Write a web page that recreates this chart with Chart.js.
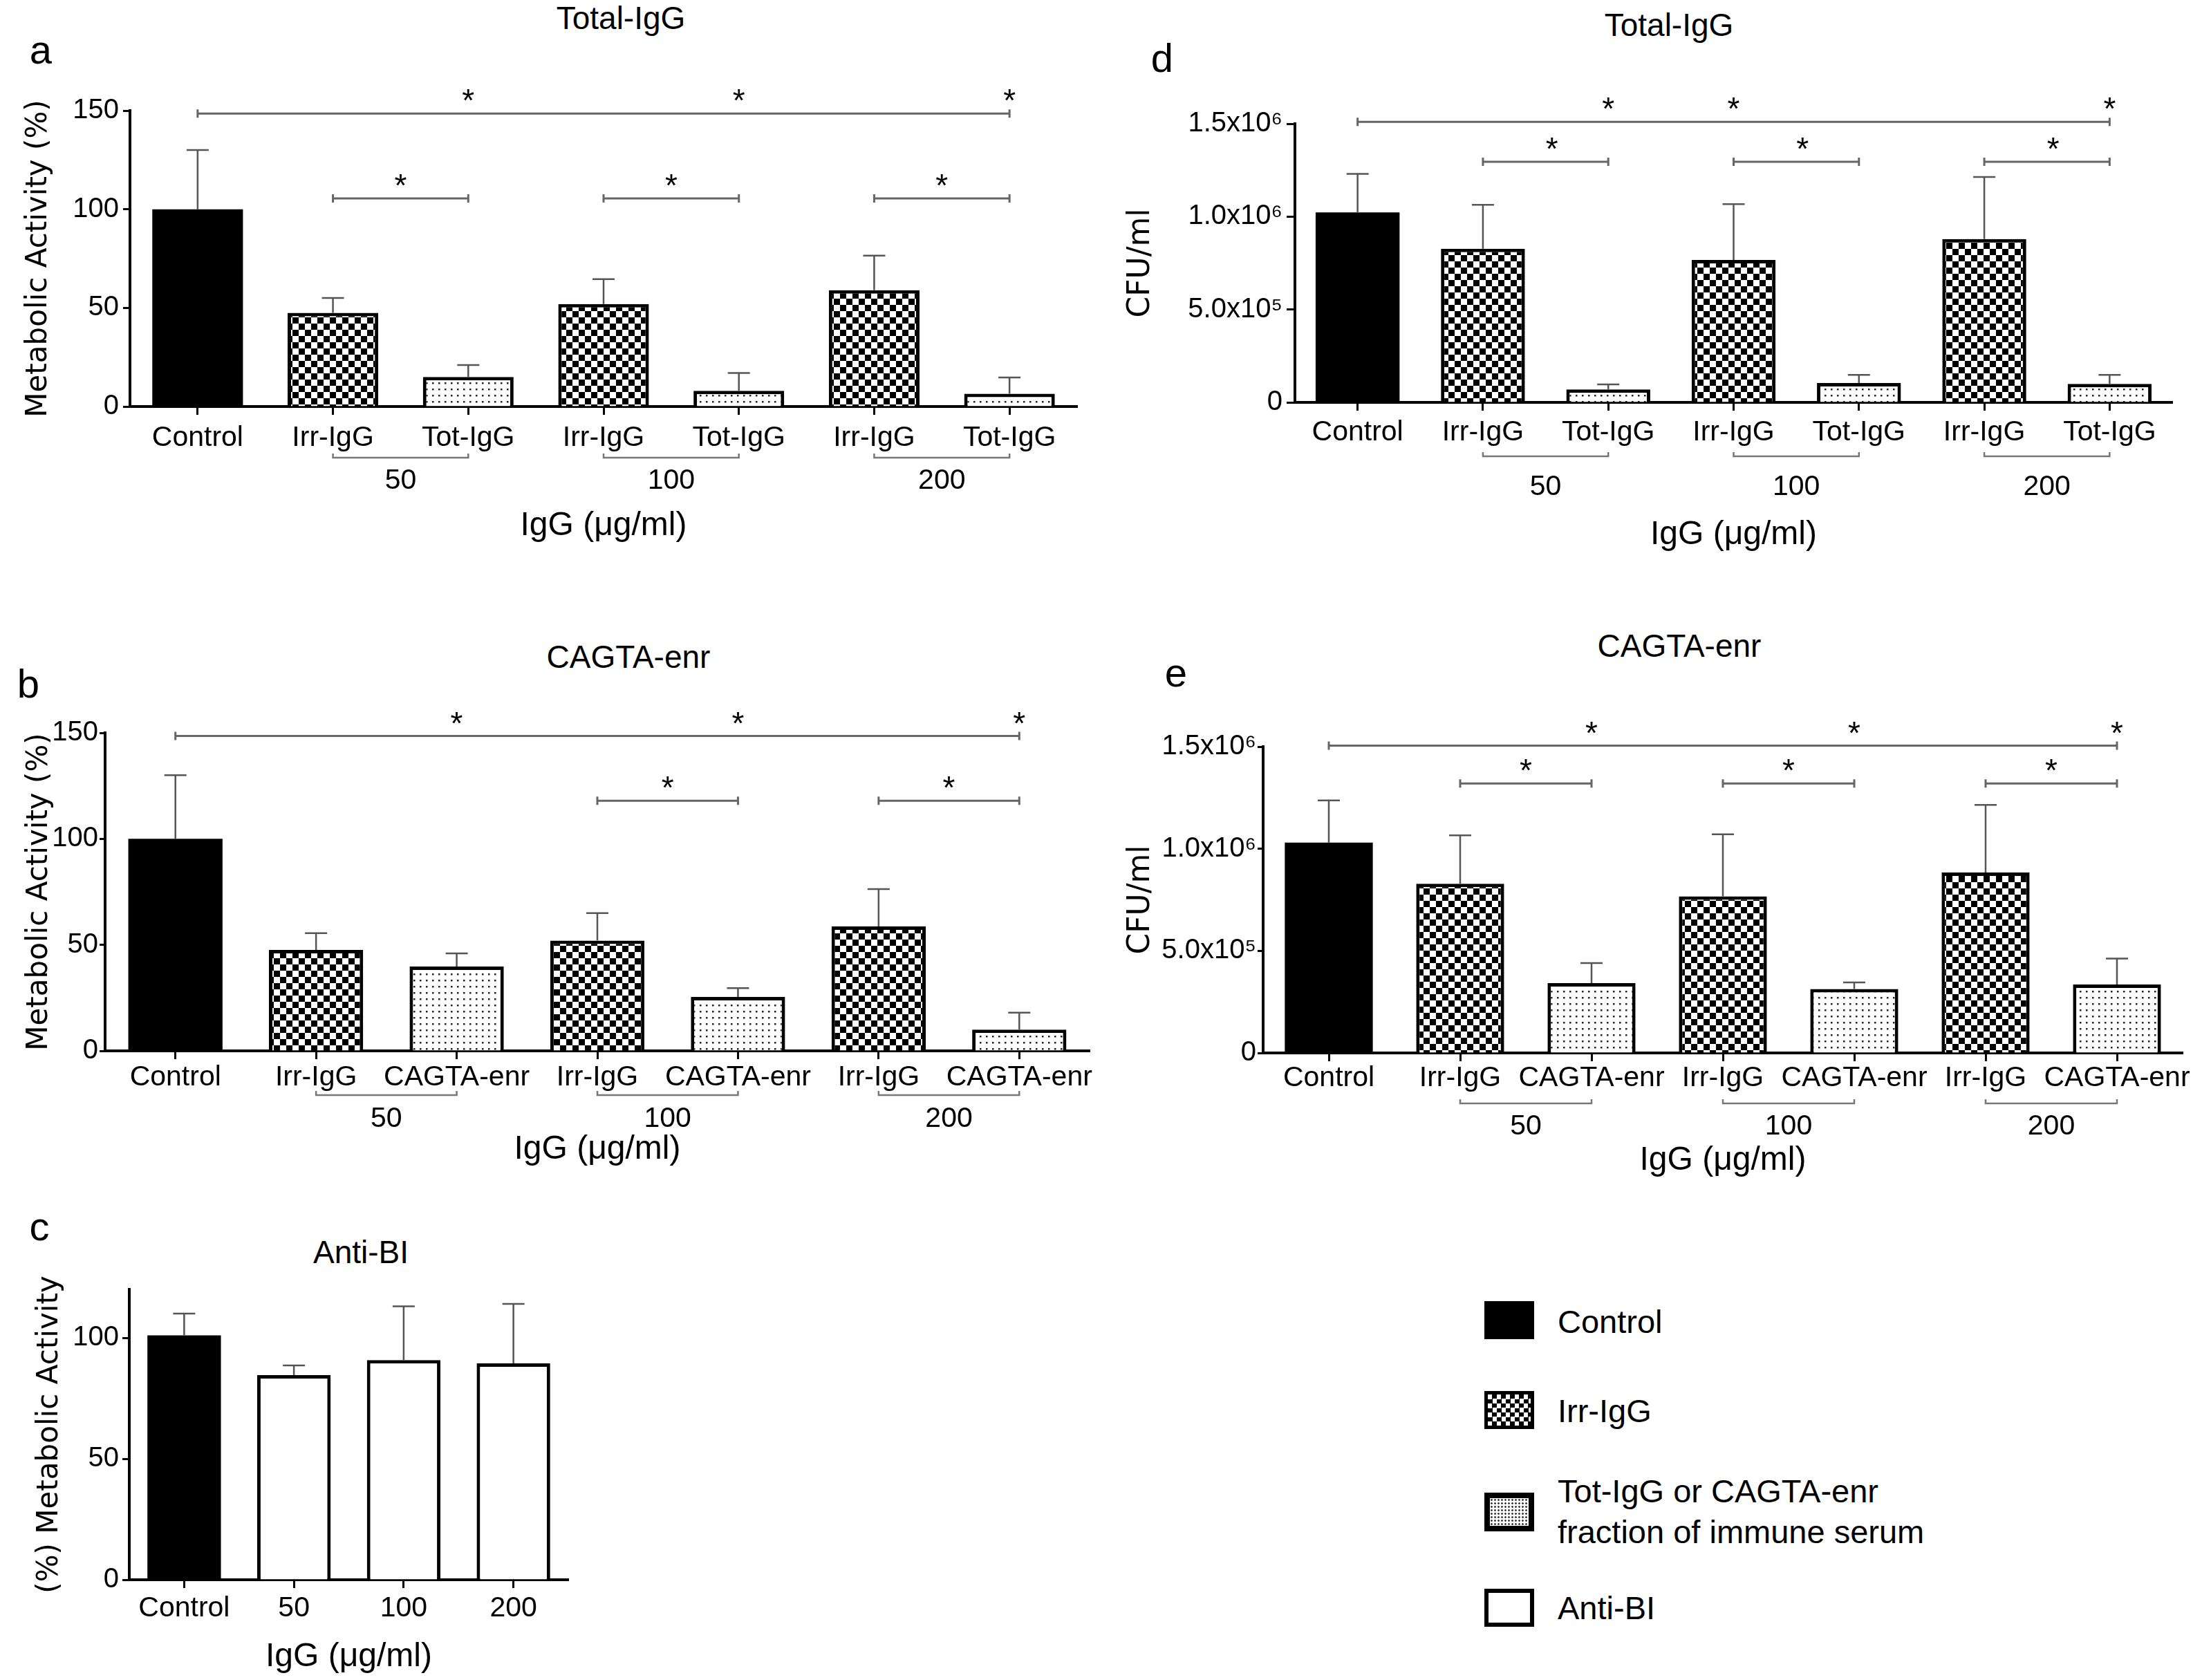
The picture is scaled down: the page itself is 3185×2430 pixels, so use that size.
<!DOCTYPE html>
<html><head><meta charset="utf-8">
<script src="https://cdn.jsdelivr.net/npm/chart.js@4.4.0/dist/chart.umd.min.js"></script>
<style>
html,body{margin:0;padding:0;background:#fff;overflow:hidden;width:3185px;height:2430px;position:relative;font-family:'Liberation Sans',Arial,sans-serif;}
canvas{position:absolute;}
.t{position:absolute;transform:translate(-50%,-50%);line-height:1;white-space:nowrap;color:#000;font-size:46px;}
.lt{position:absolute;transform:translate(-50%,-50%);line-height:1;color:#000;font-size:58px;}
.sw{position:absolute;box-sizing:border-box;}
.lg{position:absolute;transform:translateY(-50%);line-height:1;font-size:47px;white-space:nowrap;color:#000;}
</style></head><body>

<div class="lt" style="left:59px;top:72px">a</div>
<div class="lt" style="left:41px;top:989px">b</div>
<div class="lt" style="left:57px;top:1774px">c</div>
<div class="lt" style="left:1681px;top:84px">d</div>
<div class="lt" style="left:1701px;top:973px">e</div>

<div class="t" style="left:898px;top:26px">Total-IgG</div>
<div class="t" style="left:909px;top:950px">CAGTA-enr</div>
<div class="t" style="left:522px;top:1811px">Anti-BI</div>
<div class="t" style="left:2414px;top:36px">Total-IgG</div>
<div class="t" style="left:2429px;top:934px">CAGTA-enr</div>

<div id="legend"></div>

<script>
// ---------- data ----------
const catsTot   = ['Control','Irr-IgG','Tot-IgG','Irr-IgG','Tot-IgG','Irr-IgG','Tot-IgG'];
const catsCagta = ['Control','Irr-IgG','CAGTA-enr','Irr-IgG','CAGTA-enr','Irr-IgG','CAGTA-enr'];
const catsAnti  = ['Control','50','100','200'];
const doseLabels = ['50','100','200'];
const doseGroups = [[1,2],[3,4],[5,6]];

// panel a: metabolic activity, Total-IgG
const metTotMean = [100, 47.5, 15, 52, 8, 59, 6.5];
const metTotErr  = [30, 7.5, 6, 12.6, 9, 17.5, 8.2];
// panel b: metabolic activity, CAGTA-enr
const metCagtaMean = [100, 47.6, 39.8, 52, 25.4, 58.7, 10];
const metCagtaErr  = [30, 7.9, 6.2, 13, 4.2, 17.6, 8];
// panel c: metabolic activity, Anti-BI
const antiMean = [101, 84.6, 90.8, 89.4];
const antiErr  = [9, 4, 22.2, 24.6];
// panel d: CFU/ml, Total-IgG
const cfuTotMean = [1.023e6, 0.827e6, 0.07e6, 0.767e6, 0.104e6, 0.879e6, 0.10e6];
const cfuTotErr  = [0.207e6, 0.237e6, 0.027e6, 0.30e6, 0.044e6, 0.334e6, 0.048e6];
// panel e: CFU/ml, CAGTA-enr
const cfuCagtaMean = [1.03e6, 0.829e6, 0.342e6, 0.767e6, 0.313e6, 0.884e6, 0.335e6];
const cfuCagtaErr  = [0.207e6, 0.237e6, 0.098e6, 0.304e6, 0.032e6, 0.331e6, 0.127e6];

const cfuTickLabels = ['0','5.0x10\u2075','1.0x10\u2076','1.5x10\u2076'];

// significance brackets: [fromCategory, toCategory, level, star positions]
const sigA = [[0,6,148.5,[2,4,6]],[1,2,105.5,[1.5]],[3,4,105.5,[3.5]],[5,6,105.5,[5.5]]];
const sigB = [[0,6,148.5,[2,4,6]],[3,4,118,[3.5]],[5,6,118,[5.5]]];
const sigD = [[0,6,1.51e6,[2,3,6]],[1,2,1.295e6,[1.55]],[3,4,1.295e6,[3.55]],[5,6,1.295e6,[5.55]]];
const sigE = [[0,6,1.505e6,[2,4,6]],[1,2,1.32e6,[1.5]],[3,4,1.32e6,[3.5]],[5,6,1.32e6,[5.5]]];

const legendLabels = ['Control','Irr-IgG','Tot-IgG or CAGTA-enr\nfraction of immune serum','Anti-BI'];

// ---------- styling ----------
const FONT = "'Liberation Sans', Arial, sans-serif";
Chart.defaults.font.family = FONT;
Chart.defaults.color = '#000';

function makeChecker(){
  const c=document.createElement('canvas'); c.width=18; c.height=18;
  const g=c.getContext('2d');
  g.fillStyle='#fff'; g.fillRect(0,0,18,18);
  g.fillStyle='#000'; g.fillRect(0,0,9,9); g.fillRect(9,9,9,9);
  return g.createPattern(c,'repeat');
}
function makeDots(){
  const c=document.createElement('canvas'); c.width=9; c.height=9;
  const g=c.getContext('2d');
  g.fillStyle='#fff'; g.fillRect(0,0,9,9);
  g.fillStyle='#222'; g.fillRect(4,4,2.5,2.5);
  return g.createPattern(c,'repeat');
}
const PAT_CHECK = makeChecker(), PAT_DOTS = makeDots();
function fillOf(label){
  if(label==='Control') return '#000';
  if(label==='Irr-IgG') return PAT_CHECK;
  if(label==='Tot-IgG'||label==='CAGTA-enr') return PAT_DOTS;
  return '#fff';
}

function annotPlugin(p){
  return {
    id:'annot_'+p.key,
    afterDatasetsDraw(chart){
      const ctx=chart.ctx, xs=chart.scales.x, ys=chart.scales.y, meta=chart.getDatasetMeta(0);
      ctx.save();
      // error bars (upper only)
      ctx.strokeStyle='#555'; ctx.lineWidth=2.5;
      p.err.forEach((e,i)=>{
        const bx=meta.data[i].x, y0=ys.getPixelForValue(p.values[i]), y1=ys.getPixelForValue(p.values[i]+e);
        ctx.beginPath(); ctx.moveTo(bx,y0); ctx.lineTo(bx,y1);
        ctx.moveTo(bx-16,y1); ctx.lineTo(bx+16,y1); ctx.stroke();
      });
      // significance brackets
      ctx.strokeStyle='#666'; ctx.lineWidth=3; ctx.fillStyle='#000';
      ctx.font='46px '+FONT; ctx.textAlign='center'; ctx.textBaseline='alphabetic';
      (p.sig||[]).forEach(([a,b,v,stars])=>{
        const x1=xs.getPixelForValue(a), x2=xs.getPixelForValue(b), yy=ys.getPixelForValue(v);
        ctx.beginPath(); ctx.moveTo(x1,yy); ctx.lineTo(x2,yy);
        ctx.moveTo(x1,yy-6); ctx.lineTo(x1,yy+6); ctx.moveTo(x2,yy-6); ctx.lineTo(x2,yy+6); ctx.stroke();
        stars.forEach(s=>ctx.fillText('*', xs.getPixelForValue(s), yy-3));
      });
      // dose group underlines + labels
      const base=ys.getPixelForValue(0);
      ctx.strokeStyle='#777'; ctx.lineWidth=2.5;
      ctx.font='41px '+FONT; ctx.textBaseline='middle';
      (p.groups||[]).forEach(([a,b],k)=>{
        const x1=xs.getPixelForValue(a), x2=xs.getPixelForValue(b), yy=base+p.ulDy;
        ctx.beginPath(); ctx.moveTo(x1,yy-6); ctx.lineTo(x1,yy); ctx.lineTo(x2,yy); ctx.lineTo(x2,yy-6); ctx.stroke();
        ctx.fillText(p.groupLabels[k], (x1+x2)/2, base+p.glDy);
      });
      ctx.restore();
    }
  };
}

function panel(p){
  const cv=document.createElement('canvas');
  cv.width=p.w; cv.height=p.h; cv.style.left=p.x+'px'; cv.style.top=p.y+'px';
  document.body.appendChild(cv);
  const fills=p.labels.map((l,i)=>p.fills? p.fills[i] : fillOf(l));
  const borders=p.labels.map(l=>l==='Control'?0:5);
  new Chart(cv,{
    type:'bar',
    data:{labels:p.labels, datasets:[{data:p.values, backgroundColor:fills, borderColor:'#000', borderWidth:borders, barPercentage:0.67, categoryPercentage:1}]},
    options:{
      responsive:false, animation:false, devicePixelRatio:1,
      layout:{padding:{left:0,right:p.padR,top:p.padT,bottom:0}},
      plugins:{legend:{display:false}, tooltip:{enabled:false}},
      scales:{
        x:{
          grid:{display:true, drawOnChartArea:false, drawTicks:true, tickLength:12, tickWidth:3, tickColor:'#000', offset:false},
          border:{display:true, color:'#000', width:4},
          ticks:{font:{size:41}, color:'#000', padding:p.xPad, autoSkip:false, maxRotation:0, minRotation:0},
          title:{display:true, text:'IgG (\u03bcg/ml)', font:{size:48}, color:'#000', padding:{top:0,bottom:p.xtPad}},
          afterFit(s){ s.height=p.xH; }
        },
        y:{
          min:0, max:p.ymax,
          grid:{display:true, drawOnChartArea:false, drawTicks:true, tickLength:p.yTickLen, tickWidth:3, tickColor:'#000'},
          border:{display:true, color:'#000', width:4},
          ticks:{stepSize:p.step, includeBounds:false, font:{size:40}, color:'#000', padding:p.yTickPad,
                 callback:(v)=> p.tickLabels ? p.tickLabels[Math.round(v/p.step)] : String(v)},
          title:{display:true, text:p.yTitle, font:{family:"'DejaVu Sans', sans-serif", size:p.ytSize||42}, color:'#000', padding:{top:p.ytPad,bottom:0}},
          afterBuildTicks(s){ s.ticks=s.ticks.filter(t=>t.value<=p.ymax+1e-9 && Math.abs(t.value/p.step-Math.round(t.value/p.step))<1e-6); },
          afterFit(s){ s.width=p.yW; }
        }
      }
    },
    plugins:[annotPlugin(p)]
  });
}

panel({key:'a', x:0, y:0, w:1600, h:800, padT:160, padR:42, yW:188, xH:212,
  labels:catsTot, values:metTotMean, err:metTotErr, ymax:150, step:50,
  yTitle:'Metabolic Activity (%)', ytPad:31, xPad:9, xtPad:10, yTickPad:6, yTickLen:10,
  sig:sigA, groups:doseGroups, groupLabels:doseLabels, ulDy:74, glDy:108});

panel({key:'b', x:0, y:900, w:1600, h:800, padT:160, padR:24, yW:152, xH:180,
  labels:catsCagta, values:metCagtaMean, err:metCagtaErr, ymax:150, step:50,
  yTitle:'Metabolic Activity (%)', ytPad:32, xPad:2, xtPad:8, yTickPad:2, yTickLen:8,
  sig:sigB, groups:doseGroups, groupLabels:doseLabels, ulDy:64, glDy:99});

panel({key:'c', x:0, y:1700, w:900, h:730, padT:165, padR:78, yW:187, xH:145,
  labels:catsAnti, values:antiMean, err:antiErr, ymax:120, step:50,
  fills:['#000','#fff','#fff','#fff'],
  yTitle:'(%) Metabolic Activity', ytPad:47, xPad:5, xtPad:4, yTickPad:5, yTickLen:10});

panel({key:'d', x:1600, y:0, w:1585, h:810, padT:179, padR:43, yW:273, xH:228,
  labels:catsTot, values:cfuTotMean, err:cfuTotErr, ymax:1.5e6, step:5e5, tickLabels:cfuTickLabels,
  yTitle:'CFU/ml', ytSize:44, ytPad:24, xPad:7, xtPad:7, yTickPad:6, yTickLen:12,
  sig:sigD, groups:doseGroups, groupLabels:doseLabels, ulDy:78, glDy:123});

panel({key:'e', x:1600, y:880, w:1600, h:840, padT:200, padR:43, yW:227, xH:197,
  labels:catsCagta, values:cfuCagtaMean, err:cfuCagtaErr, ymax:1.5e6, step:5e5, tickLabels:cfuTickLabels,
  yTitle:'CFU/ml', ytSize:44, ytPad:24, xPad:0, xtPad:12, yTickPad:2, yTickLen:8,
  sig:sigE, groups:doseGroups, groupLabels:doseLabels, ulDy:73, glDy:107});

// ---------- legend (HTML) ----------
(function(){
  const L=document.getElementById('legend');
  const sw=[
    {top:1882,h:55,css:'background:#000;'},
    {top:2012,h:55,css:'border:5px solid #000;background-color:#fff;background-image:conic-gradient(#000 25%,#fff 0 50%,#000 0 75%,#fff 0);background-size:13px 13px;'},
    {top:2159,h:56,css:'border:8px solid #000;background-color:#fff;background-image:radial-gradient(#333 1px,transparent 1.6px);background-size:5px 5px;'},
    {top:2298,h:55,css:'border:6px solid #000;background:#fff;'}
  ];
  const textY=[1911,2040,2156,2325];
  legendLabels.forEach((lab,i)=>{
    const s=document.createElement('div'); s.className='sw';
    s.style.cssText='left:2147px;top:'+sw[i].top+'px;width:72px;height:'+sw[i].h+'px;'+sw[i].css;
    L.appendChild(s);
    const t=document.createElement('div');
    const lines=lab.split('\n');
    if(lines.length===1){
      t.className='lg'; t.style.left='2253px'; t.style.top=textY[i]+'px'; t.textContent=lab;
    } else {
      t.style.cssText='position:absolute;left:2253px;top:'+(textY[i]-29.5)+'px;font-size:47px;line-height:59px;white-space:nowrap;color:#000;';
      lines.forEach((ln,k)=>{ const d=document.createElement('div'); d.textContent=ln; t.appendChild(d); });
    }
    L.appendChild(t);
  });
})();
</script>
</body></html>
